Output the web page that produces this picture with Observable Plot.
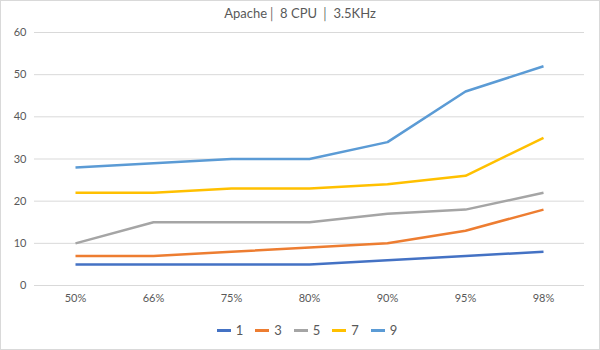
<!DOCTYPE html>
<html><head><meta charset="utf-8">
<script src="https://cdn.jsdelivr.net/npm/d3@7"></script>
<script src="https://cdn.jsdelivr.net/npm/@observablehq/plot@0.6"></script>
<style>
html,body{margin:0;padding:0;background:#fff;}
#chart{width:600px;height:350px;box-sizing:border-box;border:1px solid #d9d9d9;font-family:Lato,"Open Sans",sans-serif;color:#595959;position:relative;overflow:hidden;}
#title{height:24px;line-height:24px;text-align:center;font-size:13px;}
#legend{display:flex;justify-content:center;align-items:center;height:38px;font-size:13px;padding-left:14px;box-sizing:border-box;}
.item{display:flex;align-items:center;margin:0 6px;}
.sw{width:14px;height:3px;margin-right:5px;}
</style></head>
<body><div id="chart"><div id="title"></div><div id="plot"></div><div id="legend"></div></div>
<script>
const title = "Apache\u2502 8 CPU \u2502 3.5KHz";
const categories = ["50%","66%","75%","80%","90%","95%","98%"];
const seriesNames = ["1","3","5","7","9"];
const s1 = [5,5,5,5,6,7,8];
const s3 = [7,7,8,9,10,13,18];
const s5 = [10,15,15,15,17,18,22];
const s7 = [22,22,23,23,24,26,35];
const s9 = [28,29,30,30,34,46,52];
const colors = ["#4472C4","#ED7D31","#A5A5A5","#FFC000","#5B9BD5"];
const yTicks = [0,10,20,30,40,50,60];

const allSeries = [s1,s3,s5,s7,s9];
const data = [];
allSeries.forEach((vals,i)=>vals.forEach((v,j)=>data.push({series:seriesNames[i],cat:categories[j],value:v})));

document.getElementById("title").textContent = title;

const plot = Plot.plot({
  width: 598, height: 286,
  marginTop: 7, marginBottom: 26, marginLeft: 33, marginRight: 15,
  style: {fontFamily: "Lato, 'Open Sans', sans-serif", fontSize: "11px", color: "#595959", background: "transparent"},
  x: {type: "point", domain: categories, padding: 0.5, label: null},
  y: {domain: [0,60], label: null},
  color: {domain: seriesNames, range: colors},
  marks: [
    Plot.gridY(yTicks, {stroke: "#d9d9d9", strokeOpacity: 1, strokeWidth: 1}),
    Plot.axisY(yTicks, {tickSize: 0, tickPadding: 8, label: null, fill: "#595959"}),
    Plot.axisX({tickSize: 0, tickPadding: 9, label: null, fill: "#595959"}),
    Plot.line(data, {x: "cat", y: "value", z: "series", stroke: "series", strokeWidth: 2.5, strokeLinejoin: "round", strokeLinecap: "butt"})
  ]
});
document.getElementById("plot").appendChild(plot);

const legend = document.getElementById("legend");
seriesNames.forEach((n,i)=>{
  const it = document.createElement("div"); it.className="item";
  const sw = document.createElement("div"); sw.className="sw"; sw.style.background=colors[i];
  const t = document.createElement("span"); t.textContent=n;
  it.appendChild(sw); it.appendChild(t); legend.appendChild(it);
});
</script></body></html>
